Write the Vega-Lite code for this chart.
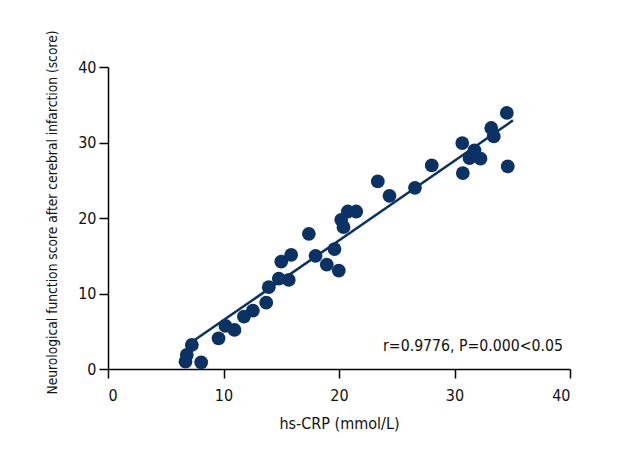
{
  "$schema": "https://vega.github.io/schema/vega-lite/v6.json",
  "width": 462,
  "height": 302,
  "autosize": {"type": "none"},
  "padding": {"left": 108, "top": 67, "right": 50, "bottom": 91},
  "background": "white",
  "config": {
    "view": {"stroke": null},
    "font": "DejaVu Sans Condensed, DejaVu Sans, sans-serif",
    "axis": {
      "grid": false,
      "domainColor": "#000000",
      "domainWidth": 1.5,
      "tickColor": "#000000",
      "tickWidth": 1.5,
      "tickSize": 9,
      "labelColor": "#111111",
      "titleColor": "#111111",
      "labelFont": "DejaVu Sans Condensed, DejaVu Sans, sans-serif",
      "titleFont": "DejaVu Sans Condensed, DejaVu Sans, sans-serif",
      "labelFontSize": 16,
      "titleFontWeight": "normal"
    }
  },
  "datasets": {
    "pts": [
      {"crp": 6.71, "score": 0.97},
      {"crp": 6.82, "score": 1.86},
      {"crp": 7.26, "score": 3.18},
      {"crp": 8.07, "score": 0.89},
      {"crp": 9.57, "score": 4.07},
      {"crp": 10.17, "score": 5.7},
      {"crp": 10.95, "score": 5.17},
      {"crp": 11.77, "score": 6.94},
      {"crp": 12.54, "score": 7.73},
      {"crp": 13.7, "score": 8.79},
      {"crp": 13.92, "score": 10.84},
      {"crp": 14.79, "score": 11.98},
      {"crp": 15.0, "score": 14.23},
      {"crp": 15.65, "score": 11.8},
      {"crp": 15.86, "score": 15.12},
      {"crp": 17.39, "score": 17.9},
      {"crp": 17.97, "score": 14.99},
      {"crp": 18.94, "score": 13.83},
      {"crp": 19.61, "score": 15.88},
      {"crp": 19.98, "score": 13.04},
      {"crp": 20.19, "score": 19.76},
      {"crp": 20.39, "score": 18.79},
      {"crp": 20.76, "score": 20.86},
      {"crp": 21.49, "score": 20.86},
      {"crp": 23.36, "score": 24.84},
      {"crp": 24.37, "score": 22.94},
      {"crp": 26.58, "score": 24.0},
      {"crp": 28.03, "score": 26.96},
      {"crp": 30.67, "score": 29.93},
      {"crp": 30.72, "score": 25.95},
      {"crp": 31.3, "score": 27.94},
      {"crp": 31.73, "score": 28.95},
      {"crp": 32.25, "score": 27.85},
      {"crp": 33.18, "score": 31.92},
      {"crp": 33.4, "score": 30.81},
      {"crp": 34.53, "score": 33.91},
      {"crp": 34.61, "score": 26.83}
    ],
    "fit": [
      {"crp": 7.0, "score": 3.3},
      {"crp": 35.06, "score": 32.93}
    ],
    "note": [
      {"crp": 40, "score": 3, "label": "r=0.9776, P=0.000<0.05"}
    ]
  },
  "layer": [
    {
      "data": {"name": "fit"},
      "mark": {"type": "line", "color": "#0b3264", "strokeWidth": 2.5},
      "encoding": {
        "x": {"field": "crp", "type": "quantitative", "scale": {"domain": [0, 40]},
              "axis": {"values": [0, 10, 20, 30, 40], "title": "hs-CRP (mmol/L)", "titleFontSize": 16, "labelPadding": 9, "titlePadding": 12}},
        "y": {"field": "score", "type": "quantitative", "scale": {"domain": [0, 40]},
              "axis": {"values": [0, 10, 20, 30, 40], "title": "Neurological function score after cerebral infarction (score)", "titleFontSize": 13.7, "labelPadding": 3, "titlePadding": 18, "titleY": 145}}
      }
    },
    {
      "data": {"name": "pts"},
      "mark": {"type": "circle", "color": "#0b3264", "opacity": 1, "size": 190},
      "encoding": {
        "x": {"field": "crp", "type": "quantitative"},
        "y": {"field": "score", "type": "quantitative"}
      }
    },
    {
      "data": {"name": "note"},
      "mark": {"type": "text", "align": "right", "baseline": "middle", "fontSize": 15.7, "color": "#111111", "dx": -7},
      "encoding": {
        "x": {"field": "crp", "type": "quantitative"},
        "y": {"field": "score", "type": "quantitative"},
        "text": {"field": "label"}
      }
    }
  ]
}
